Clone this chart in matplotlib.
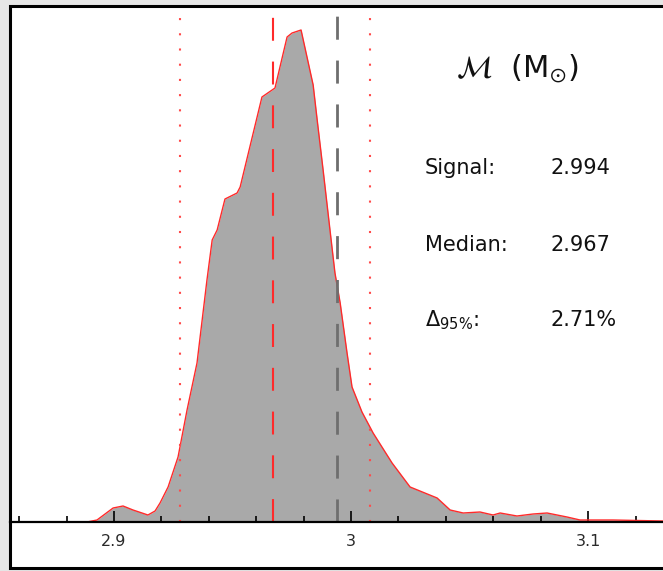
import matplotlib
matplotlib.use("Agg")
import matplotlib.pyplot as plt
from matplotlib.patches import Rectangle
from matplotlib.ticker import FixedLocator, MultipleLocator

# posterior of the chirp mass (arbitrary density units)
mass = [2.8886, 2.8928, 2.8962, 2.8996, 2.9038, 2.9080, 2.9143, 2.9173, 2.9194,
        2.9228, 2.9270, 2.9308, 2.9350, 2.9392, 2.9414, 2.9435, 2.9468, 2.9519,
        2.9532, 2.9624, 2.9679, 2.9730, 2.9751, 2.9789, 2.9840, 2.9857, 2.9882,
        2.9911, 2.9932, 2.9954, 2.9983, 3.0004, 3.0046, 3.0093, 3.0173, 3.0249,
        3.0363, 3.0418, 3.0473, 3.0544, 3.0599, 3.0629, 3.0700, 3.0768, 3.0827,
        3.0911, 3.0966, 3.1105, 3.1316]
density = [0, 2, 8, 14, 16, 12, 7, 11, 19,
           35, 65, 112, 159, 242, 282, 292, 323, 329,
           335, 425, 434, 485, 489, 492, 437, 402, 352,
           292, 249, 219, 169, 135, 110, 89, 59, 35,
           24, 12, 9, 10, 7, 9, 6, 8, 9,
           5, 2, 2, 1]

signal = 2.994
median = 2.967
ci_low, ci_high = 2.928, 3.008
delta95 = "2.71%"

major_ticks = [2.9, 3.0, 3.1]
major_labels = ["2.9", "3", "3.1"]

W, H = 663, 571
fig = plt.figure(figsize=(W / 100, H / 100), dpi=100)
fig.patch.set_facecolor("#e6e6e6")

# white box with black border around the whole plot
frame = Rectangle((10 / W, 3 / H), 1.0, 562 / H, transform=fig.transFigure,
                  facecolor="white", edgecolor="black", lw=2.2, zorder=-1)
fig.patches.append(frame)

ax = fig.add_axes([10 / W, 49 / H, (W - 10) / W, 516 / H])
ax.set_facecolor("none")

ax.fill_between(mass, density, 0, color="#a9a9a9", lw=0)
ax.plot(mass, density, color="#ff2a2a", lw=1.0)

ax.axvline(median, color="#ff2a2a", lw=1.5, dashes=(11, 10))
ax.axvline(signal, color="#6e6e6e", lw=2.0, dashes=(8.3, 7.5))
for v in (ci_low, ci_high):
    ax.axvline(v, color="#ff4a4a", lw=1.5, dashes=(1, 6.3))

ax.set_xlim(2.8561, 3.1316)
ax.set_ylim(0, 516)

for s in ("top", "right", "left"):
    ax.spines[s].set_visible(False)
ax.spines["bottom"].set_linewidth(1.6)
ax.set_yticks([])

ax.xaxis.set_major_locator(FixedLocator(major_ticks))
ax.set_xticklabels(major_labels)
ax.xaxis.set_minor_locator(MultipleLocator(0.02))
ax.tick_params(axis="x", which="major", direction="in", length=8, width=1.2,
               pad=9, labelsize=11.5, labelcolor="#2a2a2a")
ax.tick_params(axis="x", which="minor", direction="in", length=4, width=1.2)

# annotations on the right
fig.text(517 / W, 1 - 68 / H, r"$\mathcal{M}$  (M$_{\odot}$)", fontsize=22,
         ha="center", va="center", math_fontfamily="stix", color="#111111")
rows = [("Signal:", "2.994", 168), ("Median:", "2.967", 245),
        (r"$\Delta_{95\%}$:", delta95, 320)]
for name, val, y in rows:
    fig.text(425 / W, 1 - y / H, name, fontsize=15, ha="left", va="center",
             color="#111111")
    fig.text(551 / W, 1 - y / H, val, fontsize=15, ha="left", va="center",
             color="#111111")

fig.savefig("out.png", dpi=100, facecolor=fig.get_facecolor())
